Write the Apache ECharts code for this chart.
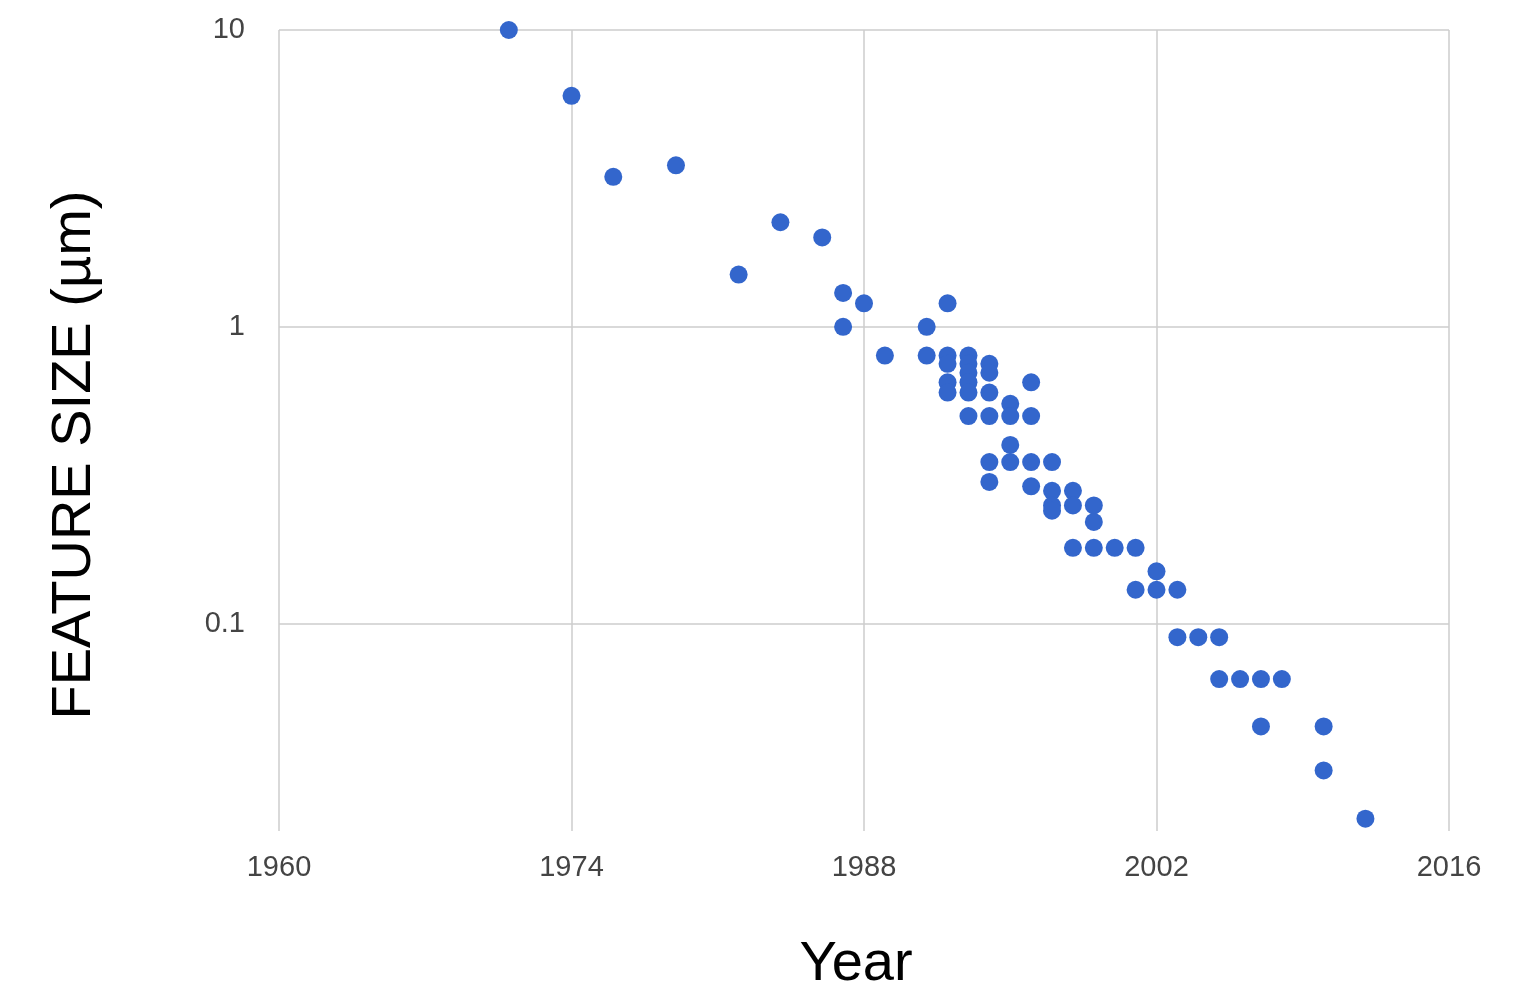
<!DOCTYPE html>
<html>
<head>
<meta charset="utf-8">
<script src="https://cdn.jsdelivr.net/npm/echarts@6/dist/echarts.min.js"></script>
<style>
html,body{margin:0;padding:0;background:#fff;}
#chart{width:1522px;height:1002px;}
</style>
</head>
<body>
<div id="chart"></div>
<script>
// Data
const years = [1971,1974,1976,1979,1982,1984,1986,1987,1987,1988,1989,1991,1991,
  1992,1992,1992,1992,1992,1993,1993,1993,1993,1993,1993,
  1994,1994,1994,1994,1994,1994,1995,1995,1995,1995,1996,1996,1996,1996,
  1997,1997,1997,1997,1998,1998,1998,1999,1999,1999,2000,2001,2001,2002,2002,
  2003,2003,2004,2005,2005,2006,2007,2007,2008,2010,2010,2012];
const featureSize = [10,6,3.2,3.5,1.5,2.25,2,1.3,1,1.2,0.8,1,0.8,
  1.2,0.8,0.75,0.65,0.6,0.8,0.75,0.7,0.65,0.6,0.5,
  0.75,0.7,0.6,0.5,0.35,0.3,0.55,0.5,0.4,0.35,0.65,0.5,0.35,0.29,
  0.35,0.28,0.25,0.24,0.28,0.25,0.18,0.25,0.22,0.18,0.18,0.18,0.13,0.15,0.13,
  0.13,0.09,0.09,0.09,0.065,0.065,0.065,0.045,0.065,0.045,0.032,0.022];
const xTicks = [1960,1974,1988,2002,2016];
const yTickLabels = [10,1,0.1];
const xTitle = 'Year';
const yTitle = 'FEATURE SIZE (µm)';

const points = years.map((y,i)=>[y, featureSize[i]]);
const tickFont = "'Liberation Sans',Arial,sans-serif";
const titleFont = "'Liberation Sans',Arial,sans-serif";

const chart = echarts.init(document.getElementById('chart'), null, {renderer:'canvas'});
chart.setOption({
  animation:false,
  backgroundColor:'#ffffff',
  grid:{left:279, right:73, top:30, bottom:171, containLabel:false},
  xAxis:{
    type:'value', min:xTicks[0], max:xTicks[xTicks.length-1], interval:14,
    axisLine:{show:false}, axisTick:{show:false},
    axisLabel:{color:'#444', fontSize:29, fontFamily:tickFont, margin:22,
      formatter:function(v){ return String(v); }},
    splitLine:{show:true, lineStyle:{color:'#cccccc', width:1.5}}
  },
  yAxis:{
    type:'log', logBase:10, min:0.02, max:10,
    axisLine:{show:false}, axisTick:{show:false},
    axisLabel:{color:'#444', fontSize:29, fontFamily:tickFont, margin:34, showMinLabel:false,
      formatter:function(v){ return yTickLabels.indexOf(+v.toPrecision(6))>=0 ? String(+v.toPrecision(6)) : ''; }},
    splitLine:{show:true, showMinLine:false, lineStyle:{color:'#cccccc', width:1.5}}
  },
  graphic:[
    {type:'text', x:856, y:965, style:{text:xTitle, font:'56px '+titleFont, fill:'#000', textAlign:'center', textVerticalAlign:'middle'}},
    {type:'text', x:75, y:455, rotation:Math.PI/2, style:{text:yTitle, font:'56px '+titleFont, fill:'#000', textAlign:'center', textVerticalAlign:'middle'}}
  ],
  series:[{
    type:'scatter', data:points, symbolSize:18,
    itemStyle:{color:'#3366cc', opacity:1}
  }]
});
</script>
</body>
</html>
